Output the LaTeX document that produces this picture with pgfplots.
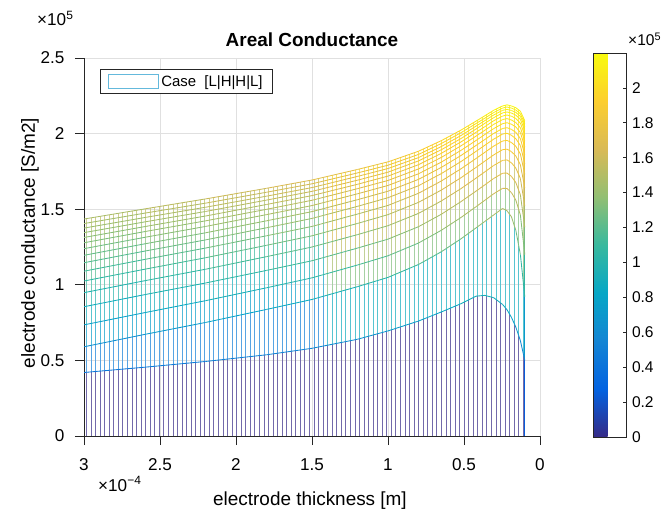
\documentclass[border=0pt]{standalone}
\usepackage{pgfplots}
\pgfplotsset{compat=1.18}
\usepackage{pgfplotstable}
\usepgfplotslibrary{fillbetween}
\usetikzlibrary{patterns.meta}
\usepackage{fontspec}
\setmainfont{Liberation Sans}

\newcommand\tickfont{\fontsize{17.2}{20}\selectfont}
\newcommand\cbfont{\fontsize{15.6}{18}\selectfont}
\newcommand\labelfont{\fontsize{19}{22}\selectfont}
\newcommand\titlefont{\fontsize{19}{22}\selectfont\bfseries}
\newcommand\legfont{\fontsize{15}{18}\selectfont}

% parula-like stops
\definecolor{pA}{RGB}{53,42,135}
\definecolor{pB}{RGB}{3,99,225}
\definecolor{pC}{RGB}{20,133,212}
\definecolor{pD}{RGB}{6,167,198}
\definecolor{pE}{RGB}{56,185,158}
\definecolor{pF}{RGB}{146,191,115}
\definecolor{pG}{RGB}{217,186,86}
\definecolor{pH}{RGB}{252,206,46}
\definecolor{pI}{RGB}{249,251,14}
\definecolor{axisgray}{RGB}{38,38,38}
\definecolor{legc}{RGB}{100,185,220}

% thickness x in 1e-4 m, conductance z0..z16 in 1e5 S/m2
\pgfplotstableread{
x     z0 z1   z2    z3    z4    z5    z6    z7    z8    z9    z10   z11   z12   z13   z14   z15   z16
3.0   0  .420 .590  .735  .855  .948  1.025 1.090 1.146 1.195 1.239 1.278 1.313 1.345 1.375 1.405 1.435
2.6   0  .455 .672  .816  .935  1.027 1.103 1.168 1.223 1.271 1.314 1.352 1.385 1.416 1.445 1.474 1.502
2.2   0  .493 .751  .895  1.012 1.103 1.179 1.243 1.297 1.344 1.386 1.423 1.455 1.485 1.513 1.540 1.568
1.8   0  .537 .837  .980  1.095 1.186 1.261 1.324 1.377 1.423 1.464 1.499 1.531 1.560 1.586 1.612 1.638
1.5   0  .580 .903  1.046 1.159 1.250 1.324 1.386 1.439 1.484 1.524 1.559 1.590 1.618 1.643 1.668 1.693
1.2   0  .640 .988  1.131 1.243 1.332 1.406 1.468 1.519 1.563 1.602 1.636 1.665 1.692 1.717 1.740 1.763
1.0   0  .695 1.049 1.192 1.302 1.391 1.464 1.525 1.576 1.619 1.657 1.690 1.719 1.745 1.769 1.791 1.813
0.8   0  .760 1.134 1.276 1.384 1.472 1.545 1.605 1.655 1.697 1.734 1.766 1.794 1.819 1.841 1.862 1.883
0.65  0  .820 1.218 1.360 1.466 1.554 1.626 1.686 1.735 1.776 1.811 1.842 1.869 1.893 1.914 1.934 1.953
0.52  0  .875 1.304 1.445 1.550 1.636 1.708 1.767 1.815 1.855 1.889 1.919 1.945 1.967 1.987 2.006 2.023
0.42  0  .925 1.377 1.517 1.620 1.706 1.777 1.836 1.883 1.922 1.955 1.984 2.009 2.031 2.050 2.067 2.083
0.363 0  .930 1.419 1.559 1.661 1.747 1.818 1.876 1.923 1.961 1.994 2.022 2.046 2.068 2.086 2.102 2.118
0.305 0  .915 1.462 1.602 1.703 1.789 1.859 1.917 1.963 2.001 2.033 2.061 2.085 2.105 2.123 2.139 2.154
0.246 0  .870 1.505 1.638 1.738 1.823 1.894 1.951 1.997 2.034 2.066 2.093 2.116 2.137 2.154 2.169 2.183
0.217 0  .835 1.490 1.637 1.739 1.826 1.897 1.955 2.002 2.039 2.072 2.099 2.123 2.143 2.160 2.176 2.190
0.188 0  .785 1.450 1.610 1.717 1.807 1.881 1.941 1.989 2.028 2.062 2.090 2.115 2.136 2.153 2.169 2.183
0.159 0  .720 1.360 1.560 1.676 1.772 1.852 1.916 1.966 2.008 2.044 2.073 2.100 2.122 2.140 2.156 2.171
0.129 0  .630 1.200 1.461 1.595 1.703 1.794 1.865 1.921 1.967 2.007 2.039 2.069 2.094 2.114 2.131 2.148
0.1   0  .500 .920  1.200 1.380 1.520 1.640 1.730 1.800 1.860 1.910 1.950 1.990 2.020 2.045 2.065 2.085
}\cond

\pgfplotsset{bandpat/.style={pattern={Lines[angle=90,distance=4.55bp,line width=0.75bp]}, pattern color=#1, draw=none, forget plot}}
% vertical mesh lines between level #1 and level #2: thick part (#3), thin part (#4)
\newcommand\band[4]{%
  \addplot[bandpat={#3!70!white}] fill between[of=c#1 and c#2, soft clip={domain=1.4:3.1}];
  \addplot[bandpat={#4!70!white}] fill between[of=c#1 and c#2, soft clip={domain=0:1.4}];}

\begin{document}
\begin{tikzpicture}
\begin{axis}[
  at={(0bp,0bp)}, anchor=south west,
  scale only axis, width=456bp, height=378bp,
  xmin=0, xmax=3, ymin=0, ymax=2.5,
  x dir=reverse,
  axis x line*=bottom, axis y line*=left,
  axis line style={draw=axisgray, line width=0.7bp},
  xtick={0,0.5,1,1.5,2,2.5,3},
  ytick={0,0.5,1,1.5,2,2.5},
  tick align=outside, major tick length=9bp,
  every tick/.style={draw=axisgray, line width=0.7bp},
  tick label style={font=\tickfont},
  xticklabel style={yshift=-10bp},
  yticklabel style={xshift=-7bp},
  /pgf/number format/assume math mode=true,
  grid=major, major grid style={draw=black!12, line width=0.6bp},
  colormap={parula}{rgb255=(53,42,135) rgb255=(3,99,225) rgb255=(20,133,212)
    rgb255=(6,167,198) rgb255=(56,185,158) rgb255=(146,191,115)
    rgb255=(217,186,86) rgb255=(252,206,46) rgb255=(249,251,14)},
  point meta min=0, point meta max=2.2,
  colorbar,
  colorbar style={
    at={(parent axis.north east)}, anchor=north west,
    xshift=45bp, yshift=5bp,
    scale only axis, width=33bp, height=384bp,
    ytick={0,0.2,0.4,0.6,0.8,1,1.2,1.4,1.6,1.8,2},
    yticklabel style={font=\cbfont, xshift=2bp},
    /pgf/number format/assume math mode=true,
    tick align=inside, major tick length=4bp,
    ytick pos=right,
    axis line style={draw=axisgray, line width=0.7bp},
    every tick/.style={draw=axisgray, line width=0.7bp},
  },
  legend style={at={(0,1)}, anchor=north west, xshift=16bp, yshift=-11bp,
    draw=axisgray, line width=0.7bp, font=\legfont,
    inner xsep=8bp, inner ysep=4bp, cells={anchor=west}},
]
% level curves as paths for the band fills
\pgfplotsinvokeforeach{0,...,16}{
  \addplot[draw=none, forget plot, name path=c#1] table[x=x, y=z#1] {\cond};
}
% vertical mesh lines, coloured by the lower level of each band
\band{0}{1}{pA}{pA}
\band{1}{2}{pC!76!pB}{pE!20!pD}
\band{2}{3}{pD!72!pC}{pF!80!pE}
\band{3}{4}{pE!28!pD}{pG!28!pF}
\band{4}{5}{pE!68!pD}{pG!68!pF}
\band{5}{6}{pE}{pG}
\band{6}{7}{pF!29!pE}{pH!24!pG}
\band{7}{8}{pF!52!pE}{pH!48!pG}
\band{8}{9}{pF!72!pE}{pH!64!pG}
\band{9}{10}{pF!88!pE}{pH!76!pG}
\band{10}{11}{pG!4!pF}{pH!88!pG}
\band{11}{12}{pG!16!pF}{pH}
\band{12}{13}{pG!28!pF}{pI!9!pH}
\band{13}{14}{pG!40!pF}{pI!16!pH}
\band{14}{15}{pG!50!pF}{pI!24!pH}
\band{15}{16}{pG!60!pF}{pI!30!pH}
% end line of the mesh at the thinnest electrode
\addplot[mesh, forget plot, line width=0.9bp, point meta=y] coordinates {
  (0.1,0) (0.1,.500) (0.1,.920) (0.1,1.200) (0.1,1.380) (0.1,1.520) (0.1,1.640)
  (0.1,1.730) (0.1,1.800) (0.1,1.860) (0.1,1.910) (0.1,1.950) (0.1,1.990)
  (0.1,2.020) (0.1,2.045) (0.1,2.065) (0.1,2.085)};
% level curves coloured by conductance
\pgfplotsinvokeforeach{1,...,16}{
  \addplot[mesh, forget plot, line width=0.85bp, point meta=y] table[x=x, y=z#1] {\cond};
}
\addlegendimage{legend image code/.code={\draw[draw=legc, fill=white, line width=1bp] (0bp,-7bp) rectangle (50bp,7bp);}}
\addlegendentry{Case\hspace{0.55em}[L|H|H|L]}
\end{axis}
\node[anchor=base, font=\titlefont] at (228bp,389bp) {Areal Conductance};
\node[anchor=base, font=\labelfont] at (226bp,-69bp) {electrode thickness [m]};
\node[anchor=base, rotate=90, font=\labelfont] at (-49bp,193bp) {electrode conductance [S/m2]};
\node[anchor=base west, inner sep=0pt, font=\tickfont] at (-47bp,410bp) {×10\textsuperscript{5}};
\node[anchor=base west, inner sep=0pt, font=\tickfont] at (14bp,-55bp) {×10\textsuperscript{−4}};
\node[anchor=base west, inner sep=0pt, font=\cbfont] at (544bp,390bp) {×10\textsuperscript{5}};
\pgfresetboundingbox
\path[use as bounding box] (-84bp,-75bp) rectangle (580bp,436bp);
\end{tikzpicture}
\end{document}
